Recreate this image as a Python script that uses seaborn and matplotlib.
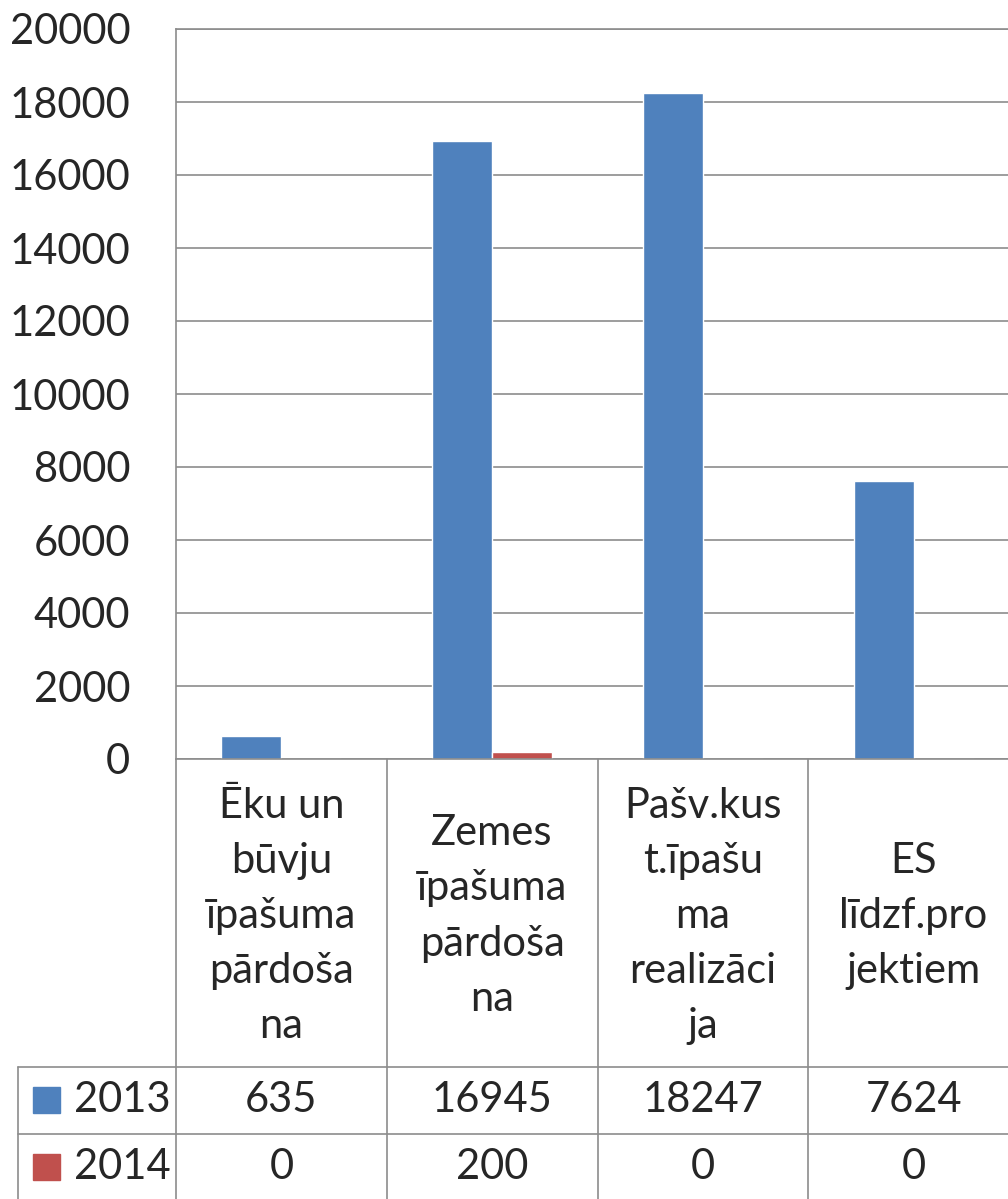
import pandas as pd
import numpy as np
import matplotlib.pyplot as plt
import matplotlib.transforms as mtransforms
from matplotlib.patches import Rectangle
import seaborn as sns

categories = ["Ēku un\nbūvju\nīpašuma\npārdoša\nna",
              "Zemes\nīpašuma\npārdoša\nna",
              "Pašv.kus\nt.īpašu\nma\nrealizāci\nja",
              "ES\nlīdzf.pro\njektiem"]
years = ["2013", "2014"]
values_2013 = [635, 16945, 18247, 7624]
values_2014 = [0, 200, 0, 0]
colors = ["#4F81BD", "#C0504D"]
yticks = list(range(0, 20001, 2000))

sns.set_style("white")
plt.rcParams['font.family'] = ['Lato', 'DejaVu Sans']

df = pd.DataFrame({
    "cat": categories * 2,
    "year": [years[0]] * 4 + [years[1]] * 4,
    "value": values_2013 + values_2014,
})

W, H = 1008, 1199
fig = plt.figure(figsize=(W / 100, H / 100), dpi=100)
ax = fig.add_axes([176 / W, 1 - 759 / H, 843 / W, 730 / H])

sns.barplot(data=df, x="cat", y="value", hue="year", palette=colors,
            width=0.57, gap=0, saturation=1, legend=False, ax=ax)

grid_c = "#8C8C8C"
fs = 30
ax.set_ylim(0, 20000)
ax.set_xlim(-0.5, 3.5)
ax.set_yticks(yticks)
ax.set_yticklabels([str(t) for t in yticks], fontsize=fs)
ax.tick_params(axis="y", length=0, pad=33)
ax.set_xticks([])
ax.set_xlabel("")
ax.set_ylabel("")
ax.yaxis.grid(True, color=grid_c, lw=1.2)
ax.set_axisbelow(True)
for s in ax.spines.values():
    s.set_color(grid_c)
    s.set_linewidth(1.2)

# data table below the plot
def ay(py):
    return (759 - py) / 730

def axx(px):
    return (px - 176) / 843

blend = mtransforms.blended_transform_factory(ax.transData, ax.transAxes)
lk = dict(color=grid_c, lw=1.2, clip_on=False)

# vertical column lines
for b in np.arange(-0.5, 4.0, 1.0):
    ax.plot([b, b], [0, ay(1201)], transform=blend, **lk)
# legend column left edge
ax.plot([axx(18), axx(18)], [ay(1067), ay(1201)], transform=ax.transAxes, **lk)
# horizontal row lines
for py in [1067, 1134, 1200]:
    ax.plot([axx(18), 1], [ay(py), ay(py)], transform=ax.transAxes, **lk)

for i, lab in enumerate(categories):
    ax.text(i, ay(916), lab, transform=blend, ha="center", va="center",
            fontsize=fs, linespacing=1.55, clip_on=False)

rows = [values_2013, values_2014]
row_c = [1100, 1167]
for r, (yr, vals) in enumerate(zip(years, rows)):
    yc = row_c[r]
    for i, v in enumerate(vals):
        ax.text(i, ay(yc), str(v), transform=blend, ha="center", va="center",
                fontsize=fs, clip_on=False)
    ax.add_patch(Rectangle((axx(33), ay(yc + 13)), 27 / 843, 26 / 730,
                           transform=ax.transAxes, color=colors[r], clip_on=False))
    ax.text(axx(74), ay(yc), yr, transform=ax.transAxes, ha="left", va="center",
            fontsize=fs, clip_on=False)

fig.savefig("out.png", dpi=100)
